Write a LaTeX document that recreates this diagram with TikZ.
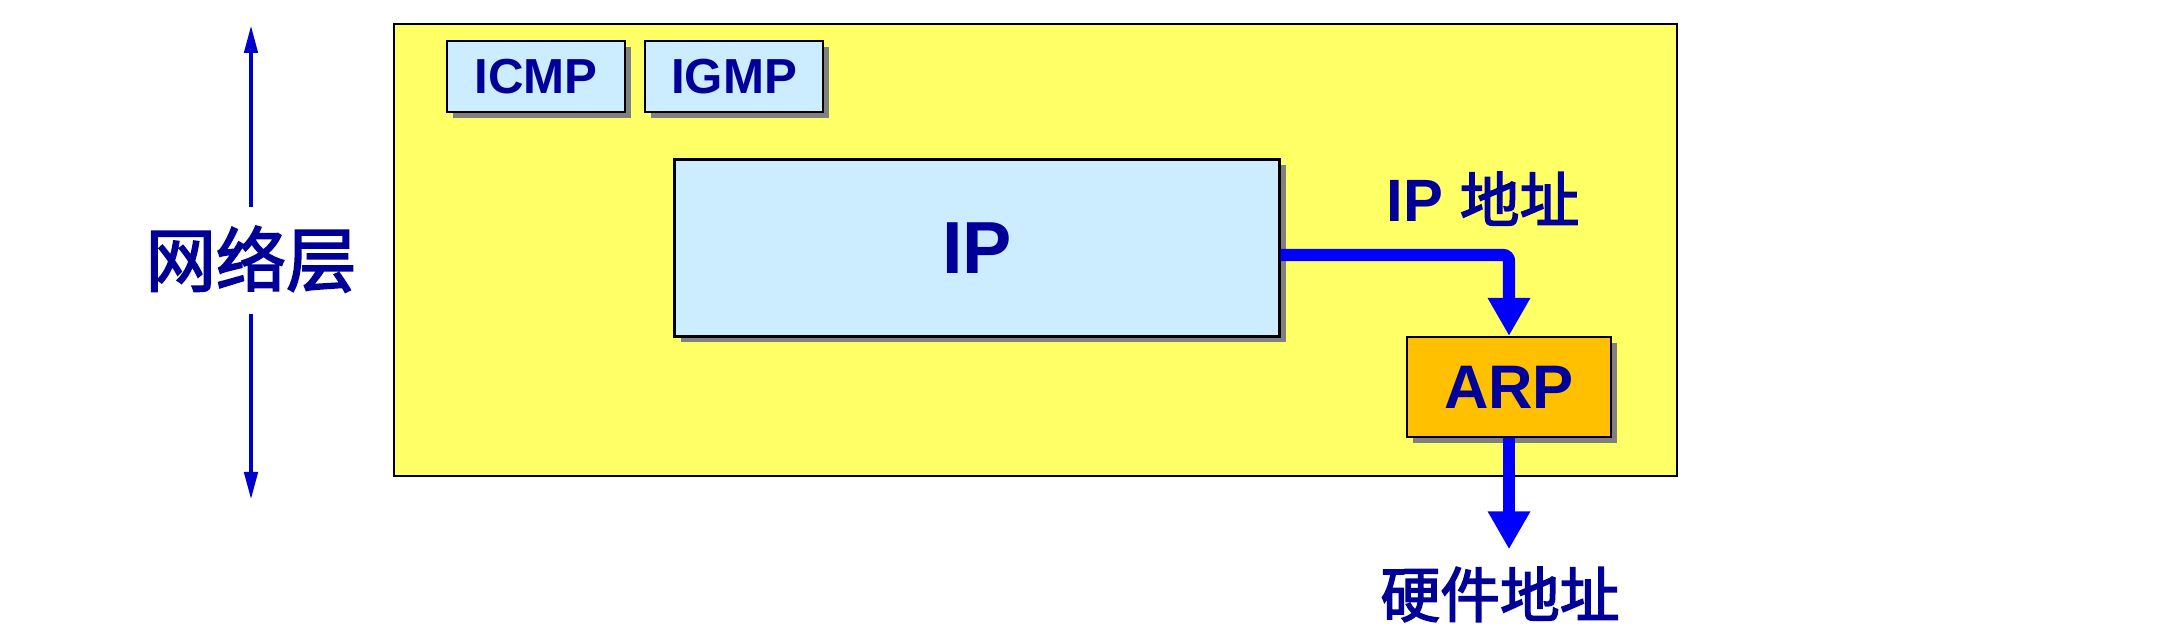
\documentclass[tikz,border=0pt]{standalone}
\usepackage{fontspec}
\setmainfont{Liberation Sans}
\newfontfamily\cjk{Noto Sans CJK SC}[FakeBold=2.5]
\definecolor{textblue}{RGB}{0, 0, 153}
\definecolor{arrowblue}{RGB}{0, 0, 255}
\definecolor{sideblue}{RGB}{0, 0, 204}
\definecolor{yellowbg}{RGB}{255, 255, 102}
\definecolor{lightblue}{RGB}{204, 236, 255}
\definecolor{arporange}{RGB}{255, 192, 0}
\definecolor{shadowgray}{RGB}{128, 128, 128}
\usetikzlibrary{arrows.meta, positioning, shadows}

\begin{document}
\begin{tikzpicture}[
            node distance=0.18cm,
            layer/.style={draw=black, fill=yellowbg, line width=0.6pt, inner sep=0pt, minimum width=12.83cm, minimum height=4.52cm},
            proto/.style={draw=black, fill=lightblue, line width=0.6pt, text=textblue, font=\bfseries\fontsize{14}{16}\selectfont, minimum width=1.78cm, minimum height=0.71cm, drop shadow={shadow xshift=0.06cm, shadow yshift=-0.06cm, fill=shadowgray, opacity=1}},
            arpbox/.style={proto, fill=arporange, font=\bfseries\fontsize{17.5}{20}\selectfont, minimum width=2.04cm, minimum height=1.0cm},
            lbl/.style={text=textblue, font=\bfseries\fontsize{17}{20}\selectfont, inner xsep=0pt},
            arr/.style={-{Triangle[width=0.4cm, length=0.38cm]}, line width=3.5pt, arrowblue},
            sidearr/.style={-{Triangle[width=0.13cm, length=0.28cm]}, line width=1.3pt, sideblue}
        ]
            \useasboundingbox (0,0) rectangle (21.72,-6.42);

            \node[layer] (lay) at (10.355,-2.50) {};
            \node[proto] (icmp) at (5.36,-0.765) {ICMP};
            \node[proto, right=of icmp] (igmp) {IGMP};
            \node[proto, minimum width=6.05cm, minimum height=1.77cm, font=\bfseries\fontsize{21}{24}\selectfont] (ip) at (9.77,-2.48) {IP};
            \node[arpbox] (arp) at (15.09,-3.87) {ARP};

            \node[lbl, anchor=base] (ipaddr) at (14.83,-2.22) {IP {\cjk\mdseries 地址}};
            \node[lbl, font=\cjk\fontsize{17}{20}\selectfont, text height=0.50cm, text depth=0.07cm, inner ysep=0.17cm, anchor=base] (hw) at (15.0,-6.17) {硬件地址};
            \node[lbl, font=\cjk\fontsize{20}{24}\selectfont, text height=0.585cm, text depth=0.07cm, inner ysep=0.2cm, anchor=base] (net) at (2.51,-2.86) {网络层};

            \coordinate (nettop) at (2.51,-0.25);
            \coordinate (netbot) at (2.51,-5.00);

            \draw[arr, rounded corners=0.06cm] ([yshift=-0.07cm]ip.east) -| (arp.north);
            \draw[arr] (arp.south) -- (arp.south |- hw.north);
            \draw[sidearr] (net.north) -- (nettop);
            \draw[sidearr] (net.south) -- (netbot);
        \end{tikzpicture}
\end{document}
